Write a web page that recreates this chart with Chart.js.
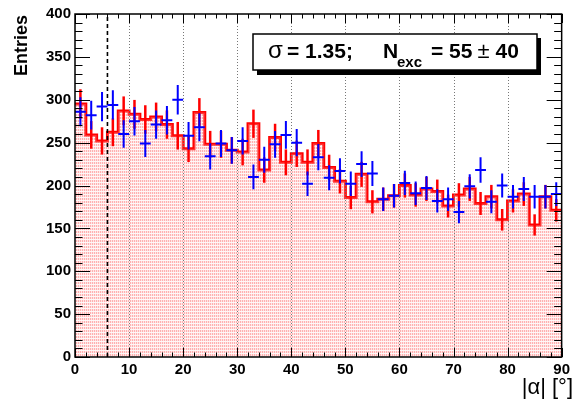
<!DOCTYPE html>
<html>
<head>
<meta charset="utf-8">
<script src="https://cdn.jsdelivr.net/npm/chart.js@4.4.1/dist/chart.umd.min.js"></script>
<style>
html,body{margin:0;padding:0;background:#fff;}
#wrap{width:574px;height:400px;}
</style>
</head>
<body>
<div id="wrap"><canvas id="c" width="574" height="400"></canvas></div>
<script>
// ---- data ----
const binEdges = [0,2,4,6,8,10,12,14,16,18,20,22,24,26,28,30,32,34,36,38,40,42,44,46,48,50,52,54,56,58,60,62,64,66,68,70,72,74,76,78,80,82,84,86,88,90];
const redValues = [295,259,252,262,287,283,277,280,271,258,243,285,248,248,241,239,272,218,256,227,237,227,249,221,205,186,213,181,184,188,200,189,196,193,176,189,196,179,187,160,182,190,154,187,171];
const redErrors = [17.2,16.1,15.9,16.2,16.9,16.8,16.6,16.7,16.5,16.1,15.6,16.9,15.7,15.7,15.5,15.5,16.5,14.8,16.0,15.1,15.4,15.1,15.8,14.9,14.3,13.6,14.6,13.5,13.6,13.7,14.1,13.7,14.0,13.9,13.3,13.7,14.0,13.4,13.7,12.6,13.5,13.8,12.4,13.7,13.1];
const blueValues = [286,282,292,294,260,275,249,271,276,300,258,268,234,249,241,252,210,230,248,259,250,202,233,209,217,202,225,214,184,188,203,191,197,182,184,169,199,218,181,200,187,196,187,187,190];
const blueErrors = [16.9,16.8,17.1,17.1,16.1,16.6,15.8,16.5,16.6,17.3,16.1,16.4,15.3,15.8,15.5,15.9,14.5,15.2,15.7,16.1,15.8,14.2,15.3,14.5,14.7,14.2,15.0,14.6,13.6,13.7,14.2,13.8,14.0,13.5,13.6,13.0,14.1,14.8,13.5,14.1,13.7,14.0,13.7,13.7,13.8];
const xTickValues = [0,10,20,30,40,50,60,70,80,90];
const yTickValues = [0,50,100,150,200,250,300,350,400];
const cutValue = 6;
const legendText = {sigma:'σ', sigmaVal:'= 1.35;', n:'N', sub:'exc', eq:'= 55', pm:'±', err:'40'};
const xTitle = '|α| [°]';
const yTitle = 'Entries';

// ---- build step histogram ----
const stepPts = [];
for (let i = 0; i < redValues.length; i++) {
  stepPts.push({x: binEdges[i], y: redValues[i]});
  stepPts.push({x: binEdges[i+1], y: redValues[i]});
}

// fill pattern
const pc = document.createElement('canvas');
pc.width = 2; pc.height = 3;
const pctx = pc.getContext('2d');
pctx.fillStyle = 'rgba(255,100,100,0.5)'; pctx.fillRect(0,0,1,2);
pctx.fillStyle = 'rgba(255,170,170,0.3)'; pctx.fillRect(1,0,1,2);
pctx.fillStyle = 'rgba(255,225,225,0.25)'; pctx.fillRect(0,2,2,1);
const pattern = pctx.createPattern(pc, 'repeat');

const FONT = "'Liberation Sans', Arial, Helvetica, sans-serif";
Chart.defaults.font.family = FONT;

const overlay = {
  id: 'overlay',
  afterDatasetDraw(chart, args) {
    if (args.index !== 0) return;
    const {ctx, chartArea: a, scales: {x, y}} = chart;
    ctx.save();
    // dotted grid
    ctx.strokeStyle = '#777';
    ctx.lineWidth = 1;
    ctx.setLineDash([1, 2]);
    xTickValues.forEach(v => {
      if (v <= x.min || v >= x.max) return;
      const px = Math.round(x.getPixelForValue(v)) + 0.5;
      ctx.beginPath(); ctx.moveTo(px, a.bottom); ctx.lineTo(px, a.top); ctx.stroke();
    });
    // dashed cut line
    ctx.strokeStyle = '#000';
    ctx.lineWidth = 1.6;
    ctx.setLineDash([4, 3]);
    const cx = x.getPixelForValue(cutValue);
    ctx.beginPath(); ctx.moveTo(cx, a.bottom); ctx.lineTo(cx, a.top); ctx.stroke();
    ctx.restore();
  },
  afterDatasetsDraw(chart) {
    const {ctx, scales: {x, y}} = chart;
    ctx.save();
    ctx.lineCap = 'butt';
    // red error bars
    ctx.strokeStyle = '#ff0000';
    ctx.lineWidth = 2.5;
    for (let i = 0; i < redValues.length; i++) {
      const cx = x.getPixelForValue((binEdges[i] + binEdges[i+1]) / 2);
      ctx.beginPath();
      ctx.moveTo(cx, y.getPixelForValue(redValues[i] - redErrors[i]));
      ctx.lineTo(cx, y.getPixelForValue(redValues[i] + redErrors[i]));
      ctx.stroke();
    }
    // blue points
    ctx.strokeStyle = '#0000ff';
    ctx.lineWidth = 2;
    for (let i = 0; i < blueValues.length; i++) {
      const cx = x.getPixelForValue((binEdges[i] + binEdges[i+1]) / 2);
      const py = y.getPixelForValue(blueValues[i]);
      ctx.beginPath();
      ctx.moveTo(cx, y.getPixelForValue(blueValues[i] - blueErrors[i]));
      ctx.lineTo(cx, y.getPixelForValue(blueValues[i] + blueErrors[i]));
      ctx.moveTo(x.getPixelForValue(binEdges[i]), py);
      ctx.lineTo(x.getPixelForValue(binEdges[i+1]), py);
      ctx.stroke();
    }
    ctx.restore();
  },
  afterDraw(chart) {
    const {ctx, chartArea: a, scales: {x, y}} = chart;
    ctx.save();
    // frame
    ctx.strokeStyle = '#000';
    ctx.lineWidth = 1.5;
    ctx.strokeRect(a.left, a.top, a.right - a.left, a.bottom - a.top);
    // ticks (inward)
    ctx.lineWidth = 1;
    ctx.beginPath();
    for (let v = y.min; v <= y.max; v += 10) {
      const py = Math.round(y.getPixelForValue(v)) + 0.5;
      const len = (v % 50 === 0) ? 15 : 7.5;
      ctx.moveTo(a.left, py); ctx.lineTo(a.left + len, py);
      ctx.moveTo(a.right, py); ctx.lineTo(a.right - len, py);
    }
    for (let v = x.min; v <= x.max; v += 2) {
      const px = Math.round(x.getPixelForValue(v)) + 0.5;
      const len = (v % 10 === 0) ? 9 : 4.5;
      ctx.moveTo(px, a.bottom); ctx.lineTo(px, a.bottom - len);
      ctx.moveTo(px, a.top); ctx.lineTo(px, a.top + len);
    }
    ctx.stroke();
    // axis titles
    ctx.fillStyle = '#000';
    ctx.font = 'bold 18px ' + FONT;
    ctx.save();
    ctx.translate(22, a.top + 1);
    ctx.rotate(-Math.PI / 2);
    ctx.textAlign = 'right';
    ctx.textBaseline = 'middle';
    ctx.fillText(yTitle, 0, 0);
    ctx.restore();
    ctx.font = '22px ' + FONT;
    ctx.textAlign = 'right';
    ctx.textBaseline = 'alphabetic';
    ctx.fillText(xTitle, 573, 394);
    // legend box with shadow
    const bx = 253, by = 34, bw = 284, bh = 36;
    ctx.fillStyle = '#000';
    ctx.fillRect(bx + 4, by + 4, bw, bh + 1);
    ctx.fillStyle = '#fff';
    ctx.fillRect(bx, by, bw, bh);
    ctx.lineWidth = 1.5;
    ctx.strokeStyle = '#000';
    ctx.strokeRect(bx, by, bw, bh);
    ctx.fillStyle = '#000';
    ctx.textAlign = 'left';
    ctx.font = '24px ' + FONT;
    ctx.fillText(legendText.sigma, 268, 58);
    ctx.font = 'bold 21px ' + FONT;
    ctx.fillText(legendText.sigmaVal, 287, 58);
    ctx.fillText(legendText.n, 383, 58);
    ctx.font = 'bold 15px ' + FONT;
    ctx.fillText(legendText.sub, 397, 67);
    ctx.font = 'bold 21px ' + FONT;
    ctx.fillText(legendText.eq, 431, 58);
    let xx = 431 + ctx.measureText(legendText.eq).width + 5;
    ctx.font = '22px ' + FONT;
    ctx.fillText(legendText.pm, xx, 58);
    xx += ctx.measureText(legendText.pm).width + 6;
    ctx.font = 'bold 21px ' + FONT;
    ctx.fillText(legendText.err, xx, 58);
    ctx.restore();
  }
};

new Chart(document.getElementById('c'), {
  type: 'line',
  data: {
    datasets: [
      {data: stepPts, borderWidth: 0, borderColor: 'rgba(0,0,0,0)', backgroundColor: pattern, fill: 'origin', pointRadius: 0, tension: 0},
      {data: stepPts, borderWidth: 3, borderColor: '#ff0000', fill: false, pointRadius: 0, tension: 0, borderJoinStyle: 'miter'}
    ]
  },
  options: {
    responsive: false,
    animation: false,
    events: [],
    layout: {padding: {left: 0, right: 9, top: 14, bottom: 0}},
    plugins: {legend: {display: false}, tooltip: {enabled: false}},
    scales: {
      x: {
        type: 'linear', min: 0, max: 90,
        grid: {display: false, drawTicks: false},
        border: {display: false},
        afterBuildTicks: s => { s.ticks = xTickValues.map(v => ({value: v})); },
        afterFit: s => { s.height = 43; },
        ticks: {autoSkip: false, maxRotation: 0, padding: 4, color: '#000', font: {size: 15, weight: 'bold'}}
      },
      y: {
        type: 'linear', min: 0, max: 400,
        grid: {display: false, drawTicks: false},
        border: {display: false},
        afterBuildTicks: s => { s.ticks = yTickValues.map(v => ({value: v})); },
        afterFit: s => { s.width = 75; },
        ticks: {autoSkip: false, padding: 4, color: '#000', font: {size: 15, weight: 'bold'}}
      }
    }
  },
  plugins: [overlay]
});
</script>
</body>
</html>
